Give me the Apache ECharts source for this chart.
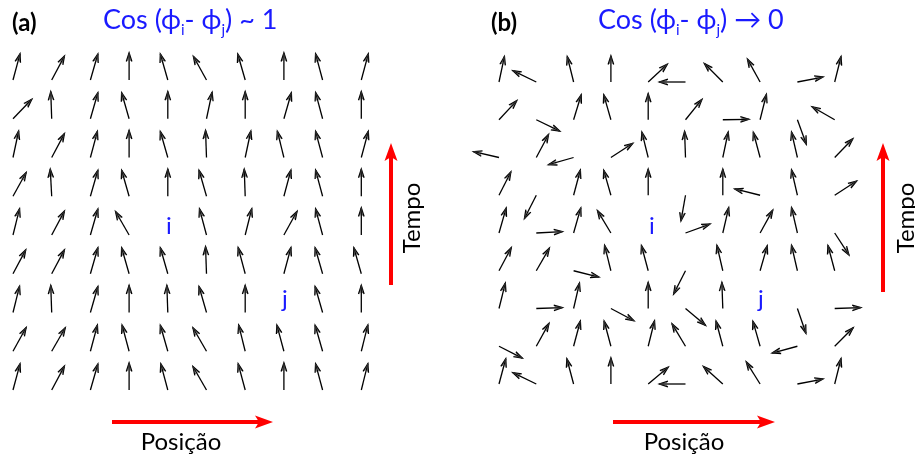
<!DOCTYPE html>
<html><head><meta charset="utf-8">
<script src="https://cdn.jsdelivr.net/npm/echarts@6/dist/echarts.min.js"></script>
<style>html,body{margin:0;padding:0;background:#fff}#c{width:915px;height:459px}</style>
</head><body><div id="c"></div>
<script>
// Phase angles (degrees, counter-clockwise from +x) per grid cell, row 1 = top.
// null = no arrow (label "i" / "j" sits there)
const phasesA = [
  [75, 62, 74, 90, 106, 119, 106, 90, 105, 75],
  [46, 92, 74, 106, 90, 78, 90, 74, 105, 90],
  [78, 62, 75, 90, 106, 92, 78, 104, 105, 75],
  [61, 93, 74, 106, 90, 106, 92, 75, 105, 90],
  [76, 62, 74, 120, null, 105, 76, 61, 105, 90],
  [62, 62, 74, 106, 106, 92, 105, 75, 106, 106],
  [76, 92, 74, 90, 92, 106, 90, null, 106, 90],
  [61, 60, 75, 105, 106, 120, 104, 105, 106, 76],
  [75, 62, 74, 90, 105, 120, 105, 90, 105, 76]
];
const phasesB = [
  [78, 154, 104, 90, 43, 180, 135, 119, 11, 76],
  [47, -26, 73, 106, 90, 51, 1, 76, -70, 150],
  [167, 62, -164, 33, 104, 92, 78, 105, 103, 46],
  [63, -117, 75, 106, 90, -100, 90, 166, 103, 33],
  [74, 3, 74, 121, null, 20, 77, 61, 103, -57],
  [62, 60, -14, 104, 105, -117, 103, 74, 103, 105],
  [76, 2, 77, -28, 90, -40, 92, null, -71, 2],
  [-27, 61, 75, 105, 76, 121, 105, 106, -165, 45],
  [75, 154, 105, 90, 40, 180, 138, 122, 11, 76]
];
const titleA = 'Cos (ϕ{s|i}- ϕ{s|j}) ~ 1';
const titleB = 'Cos (ϕ{s|i}- ϕ{s|j}) → 0';
const labelPos = 'Posição';
const labelTime = 'Tempo';

function toData(rows) {
  const out = [];
  rows.forEach((row, r) => row.forEach((a, c) => { if (a !== null) out.push([c, r, a]); }));
  return out;
}

function renderArrow(params, api) {
  const ang = api.value(2) * Math.PI / 180;
  const p = api.coord([api.value(0), api.value(1)]);
  const L = api.size([1, 0])[0] * 0.70;
  const hx = p[0] + L * Math.cos(ang), hy = p[1] - L * Math.sin(ang);
  const hl = 9, ha = 18 * Math.PI / 180;
  const b1 = [hx - hl * Math.cos(ang - ha), hy + hl * Math.sin(ang - ha)];
  const b2 = [hx - hl * Math.cos(ang + ha), hy + hl * Math.sin(ang + ha)];
  const m = [hx - 7 * Math.cos(ang), hy + 7 * Math.sin(ang)];
  return { type: 'group', children: [
    { type: 'line', shape: { x1: p[0], y1: p[1], x2: hx, y2: hy }, style: { stroke: '#000', lineWidth: 1.3 } },
    { type: 'polyline', shape: { points: [b1, [hx, hy], b2] }, style: { stroke: '#000', lineWidth: 1.3, fill: null } },
    { type: 'polyline', shape: { points: [[(b1[0]+m[0])/2,(b1[1]+m[1])/2], [hx, hy], [(b2[0]+m[0])/2,(b2[1]+m[1])/2]] }, style: { stroke: '#333', lineWidth: 0.8, fill: null } }
  ]};
}

const FONT = 'Lato, "Noto Sans", "DejaVu Sans", sans-serif';
const BLUE = '#1a1aff';
const RED = '#ff0000';

function hAxis(i) { return { type: 'value', gridIndex: i, min: 0, max: 9, show: false }; }
function vAxis(i) { return { type: 'value', gridIndex: i, min: 0, max: 8, inverse: true, show: false }; }

function titleText(x, txt) {
  return { type: 'text', left: x, top: 7, style: {
    text: '{m|' + txt.replace(/\{s\|(.)\}/g, '}{s|$1}{m|') + '}',
    fill: BLUE, font: '27px ' + FONT,
    rich: {
      m: { fontSize: 27, fontFamily: FONT, fill: BLUE, lineHeight: 34, verticalAlign: 'middle' },
      s: { fontSize: 15, fontFamily: FONT, fill: BLUE, lineHeight: 15, verticalAlign: 'bottom' }
    }
  }};
}
function redH(x1, x2, y) {
  return [
    { type: 'line', shape: { x1: x1, y1: y, x2: x2 - 12, y2: y }, style: { stroke: RED, lineWidth: 4 } },
    { type: 'polygon', shape: { points: [[x2, y], [x2 - 18, y - 6.5], [x2 - 14, y], [x2 - 18, y + 6.5]] }, style: { fill: RED } }
  ];
}
function redV(x, y1, y2) {
  return [
    { type: 'line', shape: { x1: x, y1: y1, x2: x, y2: y2 + 12 }, style: { stroke: RED, lineWidth: 4 } },
    { type: 'polygon', shape: { points: [[x, y2], [x - 6.5, y2 + 18], [x, y2 + 14], [x + 6.5, y2 + 18]] }, style: { fill: RED } }
  ];
}
function plain(x, y, txt, opts) {
  return Object.assign({ type: 'text', x: x, y: y, style: { text: txt, fill: opts.fill || '#000', font: opts.font, align: opts.align || 'center', verticalAlign: 'middle' } }, opts.extra || {});
}

const chart = echarts.init(document.getElementById('c'), null, { renderer: 'canvas' });
chart.setOption({
  backgroundColor: '#fff',
  animation: false,
  grid: [
    { left: 13, top: 80, width: 348.3, height: 310 },
    { left: 499, top: 82, width: 335.7, height: 302 }
  ],
  xAxis: [hAxis(0), hAxis(1)],
  yAxis: [vAxis(0), vAxis(1)],
  series: [
    { type: 'custom', xAxisIndex: 0, yAxisIndex: 0, data: toData(phasesA), renderItem: renderArrow, clip: false, silent: true },
    { type: 'custom', xAxisIndex: 1, yAxisIndex: 1, data: toData(phasesB), renderItem: renderArrow, clip: false, silent: true }
  ],
  graphic: [
    plain(12, 23, '(a)', { font: 'bold 24px ' + FONT, align: 'left' }),
    plain(491, 23, '(b)', { font: 'bold 24px ' + FONT, align: 'left' }),
    titleText(103, titleA),
    titleText(598, titleB),
    plain(169, 226, 'i', { font: '24px ' + FONT, fill: BLUE }),
    plain(285, 299, 'j', { font: '24px ' + FONT, fill: BLUE }),
    plain(652, 226, 'i', { font: '24px ' + FONT, fill: BLUE }),
    plain(761, 299, 'j', { font: '24px ' + FONT, fill: BLUE }),
    ...redH(112, 273, 422),
    ...redH(613, 775, 422),
    ...redV(391, 285, 143),
    ...redV(883, 292, 143),
    plain(181, 442, labelPos, { font: '24px ' + FONT }),
    plain(684, 442, labelPos, { font: '24px ' + FONT }),
    plain(412, 218, labelTime, { font: '24px ' + FONT, extra: { rotation: Math.PI / 2 } }),
    plain(906, 218, labelTime, { font: '24px ' + FONT, extra: { rotation: Math.PI / 2 } })
  ]
});
</script></body></html>
